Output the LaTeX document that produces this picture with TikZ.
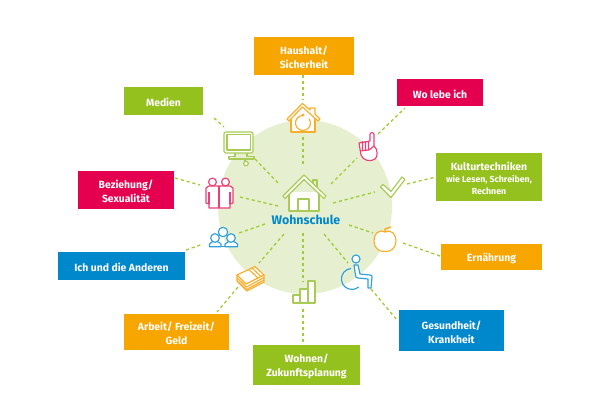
\documentclass[tikz,border=0pt]{standalone}
\usepackage{fontspec}
\setmainfont{Fira Sans}
\definecolor{gr}{HTML}{95C11F}
\definecolor{dash}{HTML}{A3CB38}
\definecolor{org}{HTML}{F7A600}
\definecolor{mag}{HTML}{E5004F}
\definecolor{blu}{HTML}{0088CC}
\definecolor{pale}{HTML}{E6EFCF}
\definecolor{icgr}{HTML}{A9CB55}
\definecolor{icor}{HTML}{F9AE2A}
\definecolor{icmg}{HTML}{EC3F76}
\definecolor{icbl}{HTML}{2FA0DC}
\tikzset{
 lbl/.style={inner sep=0pt,align=center,text=white,yshift=-1.5pt,font=\fontsize{10.4}{14}\selectfont\bfseries},
 conn/.style={draw=dash,line width=1.3pt,dash pattern=on 3.2pt off 2.8pt},
 ic/.style={line width=1.15pt,line join=round,fill=white},
 il/.style={line width=1.15pt,line join=round},
}
\newcommand{\bx}[7]{\fill[#6] (#2,#3) rectangle (#4,#5);
 \node[lbl] (#1) at ({(#2+#4)/2},{(#3+#5)/2}) {#7};}
\begin{document}
\begin{tikzpicture}[x=1pt,y=-1pt]
\useasboundingbox (0,0) rectangle (600,415);
\fill[pale] (305,207) circle (87);
% boxes
\bx{hh}{254}{37}{354}{75}{org}{Haushalt/\\Sicherheit}
\bx{wo}{397}{79}{483}{106}{mag}{Wo lebe ich}
\bx{me}{124}{87}{203}{115}{gr}{Medien}
\bx{ku}{436}{153}{542}{201}{gr}{Kulturtechniken\\[-2pt]{\fontsize{8.8}{12}\selectfont wie Lesen, Schreiben,}\\[-2pt]{\fontsize{8.8}{12}\selectfont Rechnen}}
\bx{be}{78}{171}{174}{209}{mag}{Beziehung/\\Sexualität}
\bx{er}{441}{244}{542}{270}{org}{Ernährung}
\bx{ic}{58}{252}{185}{280}{blu}{Ich und die Anderen}
\bx{ge}{399}{310}{504}{351}{blu}{Gesundheit/\\Krankheit}
\bx{ar}{124}{314}{229}{350}{org}{Arbeit/ Freizeit/\\Geld}
\bx{zu}{253}{345}{360}{385}{gr}{Wohnen/\\Zukunftsplanung}
% connectors
\foreach \n/\a/\b/\c/\d in {s1/303/137/303/166,s2/255/159/279/184,s3/331/184/357/158,s4/240/197/278/206,s5/333/203/375/192,s6/349/225/373/233,s7/324/234/348/263,s8/303/233/303/282,s9/284/234/259/263,s10/265/224/239/233,
 o1/303/75/303/100,o2/378/134/405/108,o3/214/118/224/127,o4/407/184/436/177,o5/175/178/200/185,o6/186/250/203/244,o7/403/243/440/256,o8/371/289/397/320,o9/238/287/217/312,o10/303/309/303/344}{
 \coordinate (\n a) at (\a,\b); \coordinate (\n b) at (\c,\d);
 \draw[conn] (\n a) -- (\n b);
}
% centre house
\draw[icgr,ic] (289,192) -- (289,211) -- (319,211) -- (319,192);
\draw[icgr,il] (298,211) -- (298,199) -- (309,199) -- (309,211);
\draw[icgr,il] (313,187) -- (313,180) -- (317,180) -- (317,191);
\draw[icgr,ic] (283,196) -- (304,175) -- (326,196) -- (324,198.5) -- (304,179.5) -- (285,198.5) -- cycle;
\node[inner sep=0pt,text=blu,font=\fontsize{12.4}{14}\selectfont\bfseries] (ws) at (306,220) {Wohnschule};
% top house
\draw[icor,ic] (291,116) -- (291,132) -- (315,132) -- (315,116);
\draw[icor,il,fill=white] (287,119) -- (302.5,103.5) -- (310,110) -- (310,108) -- (315,108) -- (315,114) -- (320,119) -- (318,121) -- (302.5,107) -- (289,121) -- cycle;
\draw[icor,il] (302.3,115.5) arc[start angle=-95,end angle=-395,radius=7.5];
\fill[icor] (303,115) circle (1.6);
% monitor
\draw[icgr,ic,rounded corners=1.5pt] (224,132) rectangle (253,153);
\draw[icgr,il] (227,134.5) rectangle (250.5,150);
\draw[icgr,il] (235,153) -- (235,156.5) -- (229,156.5) -- (229,159) -- (254,159) -- (254,156.5) -- (247,156.5) -- (247,153);
\draw[icgr,il] (245,159) -- (245,161);
\draw[icgr,ic] (246,163.5) circle (2.3);
% hand
\draw[icmg,ic] (370,141) -- (370,134.5) .. controls (370,132) and (374,132) .. (374,134.5) -- (374,146) .. controls (378,149) and (378,157) .. (375,159) .. controls (371,162) and (363,161) .. (361,155) -- (359,143) -- cycle;
\draw[icmg,il] (362.5,141) -- (362.5,151) (365.5,141) -- (365.5,151) (368.5,141) -- (368.5,150) (360,151) -- (369,150) -- (374,146);
% check
\draw[icgr,ic] (380.5,187) -- (383,184.5) -- (391,191.5) -- (402,177) -- (405,179.5) -- (391,197.5) -- cycle;
% people
\draw[icmg,ic] (219,186) -- (209,186) -- (206,188) -- (206,203) -- (209,204) -- (209,208) -- (230,208) -- (230,204) -- (233,203) -- (233,188) -- (230,186) -- cycle;
\draw[icmg,il] (219,186) -- (219,208) (209,192) -- (209,204) (230,192) -- (230,204);
\draw[icmg,ic] (212.5,182) circle (3.9);
\draw[icmg,ic] (225.5,182) circle (3.9);
% apple
\draw[icor,ic] (385,232) .. controls (378,229) and (374,234) .. (374,241) .. controls (374,248) and (379,252) .. (385,251.5) .. controls (391,252) and (396,248) .. (396,241) .. controls (396,234) and (391,229) .. (385,232) -- cycle;
\draw[icor,line width=1.5pt] (385,232) -- (385,229) -- (391,227);
% crowd
\draw[icbl,ic] (223,232) circle (4.7);
\draw[icbl,ic] (213,246.8) -- (209.5,246.8) -- (209.5,244) .. controls (210,242.5) and (213,242) .. (214,241) -- (216,241) .. controls (218,242) and (220,242.5) .. (221,244) -- (221,246.8) -- cycle;
\draw[icbl,ic] (215,238) circle (4.3);
\draw[icbl,ic] (225,246.8) -- (225,244) .. controls (226,242.5) and (229,242) .. (230,241) -- (232,241) .. controls (234,242) and (237,242.5) .. (237.5,244) -- (237.5,246.8) -- cycle;
\draw[icbl,ic] (231,238) circle (4.3);
\draw[icbl,il] (209.5,246.8) -- (237.5,246.8);
% money
\draw[icor,ic] (237,275) -- (237,281) -- (247,291) -- (264,282) -- (264,275) -- cycle;
\draw[icor,il] (237,278) -- (246.5,287) -- (264,277.5) (237,281) -- (246.5,289.5) -- (264,280);
\draw[icor,ic] (237,275) -- (255,266.5) -- (264,275) -- (246,284) -- cycle;
\draw[icor,il] (249,269.5) -- (258,278) (252,268) -- (261,276.5);
% bars
\draw[icgr,ic] (293,295) rectangle (300,303);
\draw[icgr,ic] (300,289) rectangle (308,303);
\draw[icgr,ic] (308,281) rectangle (315,303);
% wheelchair
\draw[icbl,ic] (356,259) circle (4);
\draw[icbl,il] (351,268.5) arc[start angle=-95,end angle=-310,radius=10.5];
\draw[icbl,il,fill=white] (354,265) -- (358,265) -- (360,274) -- (370,275) .. controls (372,275) and (372,276) .. (372,277) -- (371,288) -- (368,288) -- (368,279) -- (358,278) .. controls (356,278) and (356,277) .. (355.5,275) -- cycle;
\end{tikzpicture}
\end{document}
